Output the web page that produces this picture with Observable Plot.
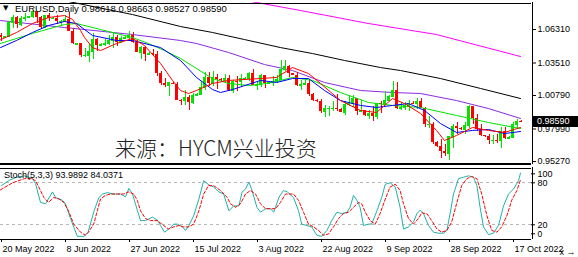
<!DOCTYPE html>
<html>
<head>
<meta charset="utf-8">
<script src="https://cdn.jsdelivr.net/npm/d3@7"></script>
<script src="https://cdn.jsdelivr.net/npm/@observablehq/plot@0.6"></script>
<style>
html,body{margin:0;padding:0;background:#fff;}
#wrap{position:relative;width:578px;height:257px;overflow:hidden;background:#fff;font-family:"Liberation Sans",Arial,sans-serif;}
#wrap svg{position:absolute;left:0;overflow:visible;}
.ov{position:absolute;white-space:nowrap;color:#000;line-height:1;}
</style>
</head>
<body>
<div id="wrap"></div>
<script>
// ---- bar dates (MT4 daily incl. Sunday bars) ----
const dates = ["2022-05-20","2022-05-22","2022-05-23","2022-05-24","2022-05-25","2022-05-26","2022-05-27","2022-05-29","2022-05-30","2022-05-31","2022-06-01","2022-06-02","2022-06-03","2022-06-05","2022-06-06","2022-06-07","2022-06-08","2022-06-09","2022-06-10","2022-06-12","2022-06-13","2022-06-14","2022-06-15","2022-06-16","2022-06-17","2022-06-19","2022-06-20","2022-06-21","2022-06-22","2022-06-23","2022-06-24","2022-06-26","2022-06-27","2022-06-28","2022-06-29","2022-06-30","2022-07-01","2022-07-03","2022-07-04","2022-07-05","2022-07-06","2022-07-07","2022-07-08","2022-07-10","2022-07-11","2022-07-12","2022-07-13","2022-07-14","2022-07-15","2022-07-17","2022-07-18","2022-07-19","2022-07-20","2022-07-21","2022-07-22","2022-07-24","2022-07-25","2022-07-26","2022-07-27","2022-07-28","2022-07-29","2022-07-31","2022-08-01","2022-08-02","2022-08-03","2022-08-04","2022-08-05","2022-08-07","2022-08-08","2022-08-09","2022-08-10","2022-08-11","2022-08-12","2022-08-14","2022-08-15","2022-08-16","2022-08-17","2022-08-18","2022-08-19","2022-08-21","2022-08-22","2022-08-23","2022-08-24","2022-08-25","2022-08-26","2022-08-28","2022-08-29","2022-08-30","2022-08-31","2022-09-01","2022-09-02","2022-09-04","2022-09-05","2022-09-06","2022-09-07","2022-09-08","2022-09-09","2022-09-11","2022-09-12","2022-09-13","2022-09-14","2022-09-15","2022-09-16","2022-09-18","2022-09-19","2022-09-20","2022-09-21","2022-09-22","2022-09-23","2022-09-25","2022-09-26","2022-09-27","2022-09-28","2022-09-29","2022-09-30","2022-10-02","2022-10-03","2022-10-04","2022-10-05","2022-10-06","2022-10-07","2022-10-09","2022-10-10","2022-10-11","2022-10-12","2022-10-13","2022-10-14","2022-10-16","2022-10-17","2022-10-18","2022-10-19"];

const open = [1.0585,1.0563,1.0570,1.0690,1.0735,1.0676,1.0725,1.0733,1.0738,1.0778,1.0733,1.0647,1.0748,1.0720,1.0722,1.0696,1.0702,1.0716,1.0617,1.0505,1.0510,1.0410,1.0415,1.0446,1.0546,1.0495,1.0505,1.0510,1.0535,1.0567,1.0522,1.0553,1.0565,1.0582,1.0519,1.0442,1.0484,1.0426,1.0430,1.0423,1.0265,1.0183,1.0162,1.0180,1.0175,1.0040,1.0035,1.0061,1.0018,1.0080,1.0090,1.0143,1.0226,1.0180,1.0229,1.0211,1.0205,1.0222,1.0119,1.0199,1.0195,1.0220,1.0225,1.0260,1.0164,1.0169,1.0245,1.0181,1.0185,1.0196,1.0212,1.0297,1.0320,1.0259,1.0250,1.0160,1.0170,1.0178,1.0088,1.0039,1.0025,0.9943,0.9967,0.9970,0.9971,0.9965,0.9940,1.0003,1.0014,1.0055,0.9946,0.9954,0.9910,0.9930,0.9903,1.0012,1.0000,1.0040,1.0070,1.0120,0.9968,0.9977,0.9998,1.0015,1.0010,1.0025,0.9970,0.9836,0.9838,0.9690,0.9655,0.9607,0.9592,0.9737,0.9816,0.9801,0.9795,0.9825,0.9986,0.9886,0.9794,0.9741,0.9735,0.9703,0.9706,0.9703,0.9780,0.9722,0.9730,0.9840,0.98618];
const high = [1.0598,1.0575,1.0698,1.0748,1.0737,1.0736,1.0765,1.0740,1.0787,1.0780,1.0738,1.0750,1.0764,1.0728,1.0750,1.0710,1.0749,1.0774,1.0640,1.0518,1.0512,1.0475,1.0507,1.0601,1.0555,1.0510,1.0545,1.0582,1.0606,1.0580,1.0572,1.0570,1.0614,1.0606,1.0541,1.0487,1.0486,1.0435,1.0463,1.0449,1.0276,1.0225,1.0186,1.0190,1.0186,1.0047,1.0122,1.0083,1.0096,1.0095,1.0200,1.0269,1.0274,1.0278,1.0258,1.0218,1.0258,1.0249,1.0207,1.0235,1.0253,1.0230,1.0275,1.0294,1.0191,1.0254,1.0249,1.0190,1.0235,1.0248,1.0368,1.0368,1.0330,1.0265,1.0268,1.0202,1.0203,1.0201,1.0094,1.0042,1.0047,0.9999,0.9988,1.0029,1.0090,0.9970,1.0028,1.0080,1.0079,1.0055,1.0034,0.9955,0.9952,0.9990,1.0011,1.0030,1.0113,1.0080,1.0198,1.0187,1.0020,1.0018,1.0036,1.0025,1.0050,1.0051,0.9976,0.9907,0.9852,0.9695,0.9709,0.9671,0.9740,0.9838,0.9854,0.9810,0.9854,0.9999,0.9987,0.9918,0.9835,0.9745,0.9750,0.9747,0.9749,0.9808,0.9809,0.9735,0.9850,0.9875,0.98663];
const low = [1.0532,1.0560,1.0560,1.0640,1.0640,1.0660,1.0700,1.0728,1.0720,1.0680,1.0627,1.0642,1.0702,1.0715,1.0677,1.0653,1.0690,1.0612,1.0506,1.0495,1.0398,1.0396,1.0359,1.0382,1.0444,1.0490,1.0490,1.0500,1.0469,1.0489,1.0513,1.0550,1.0548,1.0510,1.0438,1.0382,1.0366,1.0420,1.0404,1.0235,1.0161,1.0144,1.0072,1.0170,1.0035,0.9999,0.9998,0.9952,1.0004,1.0075,1.0078,1.0122,1.0155,1.0153,1.0127,1.0200,1.0180,1.0111,1.0097,1.0112,1.0144,1.0215,1.0193,1.0160,1.0123,1.0145,1.0141,1.0175,1.0158,1.0180,1.0203,1.0276,1.0230,1.0245,1.0153,1.0123,1.0160,1.0074,1.0033,1.0020,0.9926,0.9899,0.9903,0.9949,0.9949,0.9935,0.9914,0.9984,0.9975,0.9910,0.9940,0.9900,0.9876,0.9864,0.9875,0.9929,1.0000,1.0035,1.0064,0.9966,0.9955,0.9955,0.9945,1.0005,0.9966,0.9967,0.9810,0.9807,0.9668,0.9645,0.9553,0.9572,0.9536,0.9634,0.9749,0.9790,0.9750,0.9805,0.9835,0.9780,0.9739,0.9730,0.9670,0.9669,0.9674,0.9632,0.9711,0.9718,0.9720,0.9806,0.98527];
const close = [1.0563,1.0570,1.0690,1.0735,1.0676,1.0725,1.0735,1.0738,1.0778,1.0733,1.0647,1.0748,1.0720,1.0722,1.0696,1.0702,1.0716,1.0617,1.0518,1.0510,1.0410,1.0415,1.0446,1.0546,1.0495,1.0505,1.0510,1.0535,1.0567,1.0522,1.0553,1.0565,1.0582,1.0519,1.0442,1.0484,1.0426,1.0430,1.0423,1.0265,1.0183,1.0162,1.0185,1.0175,1.0040,1.0035,1.0061,1.0018,1.0080,1.0090,1.0143,1.0226,1.0180,1.0229,1.0211,1.0205,1.0222,1.0119,1.0199,1.0195,1.0220,1.0225,1.0260,1.0164,1.0169,1.0245,1.0181,1.0185,1.0196,1.0212,1.0297,1.0320,1.0259,1.0250,1.0160,1.0170,1.0178,1.0088,1.0039,1.0025,0.9943,0.9967,0.9970,0.9971,0.9965,0.9940,1.0003,1.0014,1.0055,0.9946,0.9954,0.9910,0.9930,0.9903,1.0012,1.0000,1.0040,1.0070,1.0120,0.9968,0.9977,0.9998,1.0015,1.0010,1.0025,0.9970,0.9836,0.9838,0.9690,0.9655,0.9607,0.9592,0.9737,0.9816,0.9801,0.9795,0.9825,0.9986,0.9886,0.9794,0.9741,0.9735,0.9703,0.9706,0.9703,0.9780,0.9722,0.9730,0.9840,0.9862,0.98590];

// ---- moving averages (bar index, price) ----
const maRedIdx = [0,4,8,12,16,18,20,21,23,25,29,33,36,40,43,45,47,49,53,57,65,69,73,77,80,85,90,94,98,101,105,109,111,114,118,122,126,130];
const maRedVal = [1.0545,1.0606,1.0681,1.0731,1.0748,1.0715,1.0623,1.0564,1.0480,1.0455,1.0514,1.0556,1.0497,1.0347,1.0205,1.0121,1.0096,1.0121,1.0180,1.0205,1.0221,1.0230,1.0313,1.0263,1.0180,1.0037,0.9954,0.9937,1.0054,1.0012,0.9929,0.9787,0.9703,0.9745,0.9812,0.9787,0.9770,0.9812];
const maBlueIdx = [0,4,8,12,16,19,23,29,33,40,45,49,53,55,58,65,69,73,77,81,85,90,94,98,102,106,110,114,118,122,126,130];
const maBlueVal = [1.0480,1.0539,1.0606,1.0664,1.0698,1.0681,1.0581,1.0539,1.0539,1.0480,1.0372,1.0230,1.0129,1.0104,1.0129,1.0205,1.0188,1.0221,1.0221,1.0121,1.0037,0.9996,0.9979,0.9996,1.0012,0.9954,0.9845,0.9770,0.9787,0.9795,0.9761,0.9778];
const maGreenIdx = [0,8,16,19,25,33,37,41,45,49,53,57,62,65,70,73,78,85,92,98,105,114,122,130];
const maGreenVal = [1.0514,1.0598,1.0673,1.0681,1.0631,1.0564,1.0514,1.0455,1.0389,1.0305,1.0221,1.0180,1.0163,1.0171,1.0205,1.0230,1.0205,1.0104,1.0021,0.9996,0.9979,0.9912,0.9853,0.9803];
const maPurpleIdx = [0,16,33,45,49,57,66,73,81,90,98,105,114,122,130];
const maPurpleVal = [1.0706,1.0648,1.0589,1.0539,1.0514,1.0439,1.0338,1.0288,1.0188,1.0121,1.0104,1.0096,1.0037,0.9970,0.9887];
const maBlackIdx = [0,17,33,45,53,61,70,78,86,95,100,110,120,130];
const maBlackVal = [1.0982,1.0865,1.0756,1.0656,1.0606,1.0547,1.0480,1.0430,1.0372,1.0313,1.0288,1.0221,1.0138,1.0054];
const maMagentaIdx = [50,64,75,92,109,130];
const maMagentaVal = [1.0940,1.0857,1.0790,1.0681,1.0589,1.0405];

// ---- stochastic (5,3,3) ----
const stochKIdx = [0.25,2.3,4,6,8,8.75,10,11.25,13,13.75,15.5,16.25,17.5,19.2,20.9,21.9,23.4,24.6,25.5,26.7,28.4,30,31.25,32.1,33,34.25,35,36.25,38,39.2,40,41,42.1,43.3,44.2,45.5,46.25,47.1,48.3,49.6,50.8,52.1,53.3,54.6,55.8,57.1,58.3,59.6,60.4,61.25,62.1,62.9,64.1,65,66.25,67.5,68.3,69.6,70.7,71.7,73.25,74.5,75.3,76.6,77.8,79.1,80.3,81.6,82.8,84.1,85.3,86.6,87.4,88.25,89.1,89.9,90.75,92,92.8,94.1,95.3,96.2,97.4,98.7,99.9,100.75,102,103.25,104.1,104.9,105.75,107,108.25,109.5,110.75,111.6,112.4,113.25,114.5,115.75,117,118.25,119.1,119.9,120.75,122,123.25,124.5,125.75,127,128.25,129.5,130];
const stochKVal = [76,84,88,90,86,79,52,50,67,59,55,50,29,3.5,3.5,9.5,40,59,64,66,64,64,60,72,64,40,26,26,31,27,19,9.5,14,21,21,17,12,19,33,57,83,77,74,67,64,40,47,47,67,71,81,69,45,38,43,43,38,59,69,67,59,40,21,19,17,5,3.5,12,26,38,36,38,45,62,55,45,19,21,21,40,59,78,80,74,45,14,17,24,36,41,36,19,9.5,8,8,12,36,64,86,88,90,88,76,45,17,6,8,19,47,64,71,83,94];
const stochDIdx = [0,3,6,7.9,8.75,10,10.85,12,13.3,14.6,15.8,17,18.3,20,21.25,22,23.3,24.2,25,26.25,27.5,29.2,30.8,32,33.3,34.2,35,36.25,37.5,39.2,40.8,42,43.3,44.6,45.8,47,48.3,49.6,50.8,52,53.3,55,56.7,57.5,58.75,60,61.25,62.5,63.75,65,66.25,67.5,68.75,70,71.25,73.25,74.5,75.75,77,78.25,79.5,80.75,82,83.25,84.5,85.75,87,88.25,89.5,90.3,91.2,92.4,93.7,94.9,96.2,97.4,98.7,99.9,100.75,102,103.25,104.5,105.3,106.6,107.8,109.1,110.3,111.6,112.8,114.1,115.3,116.6,117.8,119.1,120.3,121.6,122.8,124.1,125.3,126.6,127.8,129.1,130];
const stochDVal = [70,80,86,86,83,69,59,52,59,57,52,40,21,9.5,5,9.5,21,40,57,62,64,64,64,67,64,55,40,29,26,26,19,14,17,19,17,17,21,40,64,76,76,69,59,50,45,50,64,69,64,50,43,43,43,52,64,64,55,38,21,17,12,5,7,17,29,36,38,45,52,50,38,26,21,36,57,74,78,69,50,29,21,29,37,36,26,14,9.5,12,24,52,76,86,89,86,64,33,12,9.5,17,33,55,69,84];

// ---- axis ticks / labels ----
const priceTicks = [1.0631,1.0351,1.0079,0.9799,0.9527];
const tickDates = ["2022-05-20","2022-06-08","2022-06-27","2022-07-15","2022-08-03","2022-08-22","2022-09-09","2022-09-28","2022-10-17"];
const tickLabels = ["20 May 2022","8 Jun 2022","27 Jun 2022","15 Jul 2022","3 Aug 2022","22 Aug 2022","9 Sep 2022","28 Sep 2022","17 Oct 2022"];
const stochLevels = [80,20];
const titleText = "EURUSD,Daily  0.98618 0.98663 0.98527 0.98590";
const stochTitle = "Stoch(5,3,3) 93.9892 84.0371";
const bidPrice = 0.98590;
const watermark = "来源：HYCM兴业投资";

// ---- build ----
const X_MAX = 132.75;
const GREEN = "#00e400", RED = "#ff0000";
const FONT = "'Liberation Sans', Arial, sans-serif";
const bars = dates.map((d,i)=>({i, d, o:open[i], h:high[i], l:low[i], c:close[i]}));
const upBars = bars.filter(b=>b.c>=b.o);
const dnBars = bars.filter(b=>b.c<b.o);
const pts = (idx, val) => idx.map((x,k)=>({x, y: val[k]}));

function candles(data, color){
  return [
    Plot.ruleX(data, {x:"i", y1:"l", y2:"h", stroke: color, strokeWidth:1, dx:0.5, shapeRendering:"crispEdges"}),
    Plot.rect(data, {x1: b=>b.i-0.375, x2: b=>b.i+0.375, y1:"o", y2:"c", fill: color, dx:0.5, shapeRendering:"crispEdges"}),
    Plot.ruleY(data, {y:"o", x1: b=>b.i-0.375, x2: b=>b.i+0.375, stroke: color, dx:0.5, shapeRendering:"crispEdges"})
  ];
}
function maLine(idx, val, color){
  return Plot.line(pts(idx,val), {x:"x", y:"y", stroke: color, strokeWidth: 1, clip: true});
}

const yTop = 1.08568, yBot = 0.95022;
const main = Plot.plot({
  width: 578, height: 165,
  marginTop: 2, marginBottom: 1, marginLeft: 0, marginRight: 47,
  style: {background: "transparent", fontFamily: FONT, fontSize: "9px", color: "#000", overflow: "visible"},
  x: {domain: [0, X_MAX], axis: null},
  y: {domain: [yBot, yTop], axis: null},
  marks: [
    maLine(maMagentaIdx, maMagentaVal, "#ff00ff"),
    maLine(maBlackIdx, maBlackVal, "#000000"),
    maLine(maPurpleIdx, maPurpleVal, "#8a2be2"),
    ...candles(upBars, GREEN),
    ...candles(dnBars, RED),
    maLine(maGreenIdx, maGreenVal, GREEN),
    maLine(maBlueIdx, maBlueVal, "#0000ff"),
    maLine(maRedIdx, maRedVal, RED),
    Plot.ruleY([yTop], {stroke:"#000", dy: 0.5, shapeRendering:"crispEdges"}),
    Plot.ruleY([yBot], {stroke:"#000", strokeWidth: 1.5, dy: -0.5, shapeRendering:"crispEdges"}),
    Plot.ruleX([X_MAX], {stroke:"#000", dx: 0.5, shapeRendering:"crispEdges"}),
    Plot.axisY({anchor: "right", ticks: priceTicks, tickFormat: d => d.toFixed(5), tickSize: 4, tickPadding: 2, fontSize: 9})
  ]
});
main.style.top = "0px";

const tickIdx = tickDates.map(d => dates.indexOf(d));
const S_BOT = -1, S_TOP = 101.9;
const stoch = Plot.plot({
  width: 578, height: 92,
  marginTop: 2, marginBottom: 18, marginLeft: 0, marginRight: 47,
  style: {background: "transparent", fontFamily: FONT, fontSize: "9px", color: "#000", overflow: "visible"},
  x: {domain: [0, X_MAX]},
  y: {domain: [S_BOT, S_TOP], axis: null},
  marks: [
    Plot.ruleY(stochLevels, {stroke: "#b8b8b8", strokeDasharray: "3,3", shapeRendering:"crispEdges"}),
    Plot.line(pts(stochKIdx, stochKVal), {x:"x", y:"y", stroke: "#20b2aa", strokeWidth: 1, clip: true}),
    Plot.line(pts(stochDIdx, stochDVal), {x:"x", y:"y", stroke: "#ff0000", strokeWidth: 1, strokeDasharray: "3,2", clip: true}),
    Plot.ruleY([S_TOP], {stroke:"#000", dy: 0.5, shapeRendering:"crispEdges"}),
    Plot.ruleY([S_BOT], {stroke:"#000", dy: -0.5, shapeRendering:"crispEdges"}),
    Plot.ruleX([X_MAX], {stroke:"#000", dx: 0.5, shapeRendering:"crispEdges"}),
    Plot.ruleX(tickIdx, {x: d => d, y1: S_BOT, y2: S_BOT - 4.3, stroke: "#000", dx: 0.5, shapeRendering:"crispEdges"}),
    Plot.axisX({ticks: tickIdx, tickFormat: (d) => tickLabels[tickIdx.indexOf(d)], tickSize: 0, tickPadding: 6, textAnchor: "start", dx: 2, fontSize: 9}),
    Plot.ruleY(stochLevels, {x1: X_MAX, x2: X_MAX + 1, stroke: "#000"}),
    Plot.text(stochLevels, {x: X_MAX, y: d => d, text: d => String(d), dx: 6, textAnchor: "start", fontSize: 9}),
    Plot.ruleY([100], {x1: X_MAX, x2: X_MAX + 1, stroke: "#000", dy: 5}),
    Plot.text([100], {x: X_MAX, y: d => d, text: d => String(d), dx: 6, dy: 5, textAnchor: "start", fontSize: 9}),
    Plot.ruleY([0], {x1: X_MAX, x2: X_MAX + 1, stroke: "#000", dy: -5}),
    Plot.text([0], {x: X_MAX, y: d => d, text: d => String(d), dx: 6, dy: -5, textAnchor: "start", fontSize: 8.5})
  ]
});
stoch.style.top = "165px";

const wrap = document.getElementById("wrap");
wrap.appendChild(main);
wrap.appendChild(stoch);

// bid price box, positioned from the plot's own y scale
const yb = main.scale("y").apply(bidPrice);
const box = document.createElement("div");
box.className = "ov";
box.textContent = bidPrice.toFixed(5);
Object.assign(box.style, {left: "533px", top: (yb - 5.5) + "px", width: "45px", height: "11px", background: "#000", color: "#fff", fontSize: "9px", lineHeight: "11px", paddingLeft: "4px", boxSizing: "border-box"});
wrap.appendChild(box);

// chart title
const tri = document.createElement("div");
tri.className = "ov";
tri.textContent = "▼";
Object.assign(tri.style, {left: "3px", top: "5px", fontSize: "7px", fontFamily: "'DejaVu Sans', sans-serif"});
wrap.appendChild(tri);
const ttl = document.createElement("div");
ttl.className = "ov";
ttl.textContent = titleText;
Object.assign(ttl.style, {left: "15px", top: "4px", fontSize: "9.5px"});
wrap.appendChild(ttl);

const st = document.createElement("div");
st.className = "ov";
st.textContent = stochTitle;
Object.assign(st.style, {left: "4px", top: "171px", fontSize: "9px"});
wrap.appendChild(st);

const wm = document.createElement("div");
wm.className = "ov";
wm.textContent = watermark;
Object.assign(wm.style, {left: "115px", top: "137px", fontSize: "21px", fontWeight: "300", fontFamily: "'Noto Sans CJK SC', sans-serif", color: "#222"});
wrap.appendChild(wm);
</script>
</body>
</html>
